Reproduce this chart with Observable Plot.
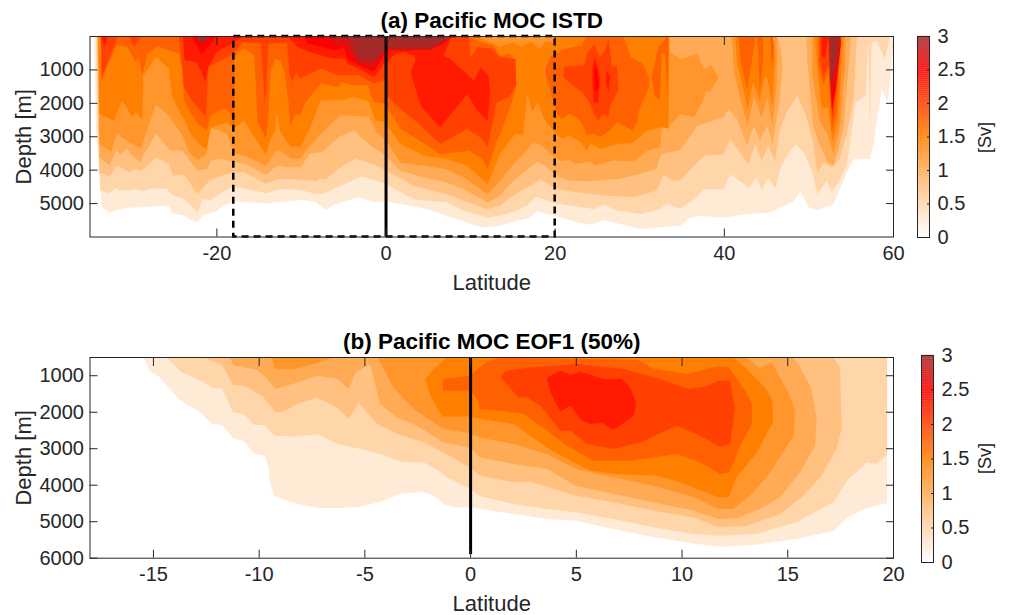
<!DOCTYPE html>
<html><head><meta charset="utf-8">
<style>html,body{margin:0;padding:0;background:#fff}#c{position:relative;width:1011px;height:615px;overflow:hidden}#c>*{position:absolute}</style>
<script src="https://cdn.jsdelivr.net/npm/d3@7"></script>
<script src="https://cdn.jsdelivr.net/npm/@observablehq/plot@0.6"></script>
</head><body><div id="c"></div>
<script>
const latTicksA=[-20,0,20,40,60], latTicksB=[-15,-10,-5,0,5,10,15,20];
const depthTicksA=[1000,2000,3000,4000,5000], depthTicksB=[1000,2000,3000,4000,5000,6000];
const cbTicks=[0,0.5,1,1.5,2,2.5,3];
const cmapDomain=[0,1.5,2.5,3], cmapRange=["#ffffff","#ff8000","#ff0000","#a52a2a"];
const boxLat=[-18,20];

// Panel (a): contour outlines [latitude, depth]
const a025=[[-34.5,0],[-34.3,2700],[-33.6,5110],[-32.7,5260],[-31.6,5190],[-30.8,5130],[-25.7,5060],[-25.2,5290],[-23.9,5360],[-23.3,5460],[-22.3,5560],[-21.7,5360],[-20.1,5240],[-19.4,5090],[-18,4930],[-14.2,4990],[-9.9,4890],[-8.3,4960],[-7.2,5180],[-6,5030],[-3.4,4810],[-1.25,4960],[-0.15,4930],[4.5,5140],[7.2,5370],[11.2,5700],[12.3,5700],[13.5,5660],[15.5,5510],[16.9,5430],[17.9,5240],[19.8,5360],[22.6,5560],[24.2,5630],[25.7,5490],[27.7,5610],[30.1,5760],[33.2,5690],[34.8,5660],[36,5420],[37.2,5370],[39.9,5420],[42.7,5320],[45.4,5270],[48.2,4920],[49,4640],[50,5120],[51.1,5200],[52.9,5020],[54.5,4070],[55.3,3670],[57.2,3670],[57.6,3270],[58.6,1570],[59.3,1970],[60,270],[60,0]];
const a050=[[-34.3,0],[-34.1,2500],[-33.8,4610],[-32.7,4690],[-32,4530],[-31.4,4590],[-30.4,4610],[-29.6,4560],[-28.8,4630],[-27.6,4540],[-25.9,4560],[-25.2,4760],[-23.9,4860],[-22.3,5260],[-21.7,4860],[-20.7,4890],[-19.4,4660],[-18,4480],[-14.2,4690],[-12.3,4560],[-10.1,4590],[-8.3,4710],[-7.2,4690],[-5.6,4490],[-2.8,4190],[-1.25,4310],[-0.15,4410],[3.3,4870],[7.2,4970],[9.2,5220],[12,5420],[13.5,5360],[15.5,5210],[16.7,5060],[17.7,4790],[20,4990],[23,5110],[24.6,5160],[25.7,5030],[27.3,5210],[30.1,5310],[32.4,5160],[33.2,5010],[34.8,5160],[36.5,4870],[37.6,4570],[39.9,4570],[40.7,4120],[42.9,4520],[43.8,4220],[44.4,4570],[45.2,4250],[46,4540],[46.8,3820],[48.4,3220],[49.4,3470],[50.4,4070],[51,4720],[52.1,4320],[52.7,4640],[53.5,4370],[54.5,3820],[55.5,1970],[56.7,1770],[57,70],[57.2,2670],[57.4,170],[58,120],[59,670],[59.5,70],[59.5,0]];
const a075=[[-34.2,0],[-34,2500],[-33.9,4060],[-32.7,4190],[-31.8,3860],[-30.4,4060],[-29.6,3960],[-29,4030],[-27.2,3630],[-25.7,3810],[-25.2,4160],[-23.9,4130],[-22.3,4710],[-20.9,4310],[-19.4,4160],[-18,4060],[-16.8,4060],[-14.2,4410],[-12.7,4260],[-10.1,4290],[-8.3,4330],[-7.8,4240],[-7.2,4290],[-5.6,3960],[-3.6,3660],[-1.65,3810],[-0.15,3990],[3.3,4470],[7.2,4720],[9.2,4920],[12,5170],[13.5,5060],[14.7,4810],[16.3,4560],[18.3,4290],[20,4530],[21,4610],[23.4,4690],[25.7,4760],[29.3,4810],[32,4610],[32.8,4160],[34,4310],[34.8,4310],[36,3970],[37.6,3570],[39.9,3520],[40.7,3070],[41.7,3420],[42.8,3820],[43.7,3220],[44.4,3720],[45.2,3270],[46,3720],[46.6,2770],[47.4,2270],[48.6,1770],[49.6,2320],[50.4,3070],[51,4070],[51.7,3770],[52.7,3920],[53.6,3670],[54.5,2870],[55.3,1870],[55.6,270],[55.7,0]];
const a100=[[-34.1,0],[-34,2000],[-33.9,3610],[-32.7,3860],[-31.9,3410],[-31.4,3530],[-30.6,3360],[-30.2,3530],[-29,3760],[-28.7,3560],[-27.2,2910],[-25.5,3410],[-24.1,3410],[-22.3,4010],[-21.1,3960],[-20.7,3710],[-19.4,3660],[-18,3760],[-16.6,3810],[-14.2,4140],[-12.9,3860],[-11.7,3910],[-10.1,3910],[-9,3510],[-7.5,3460],[-5.6,3010],[-3.8,2810],[-1.65,3310],[-0.15,3530],[1.7,4020],[4.5,4220],[7.2,4370],[9.2,4570],[12,4970],[13.5,4760],[14.7,4410],[16.3,4060],[17.9,3740],[19,3910],[20,4160],[21.6,4310],[24,4330],[25.3,4310],[27.7,4260],[30.1,4110],[32,3960],[32.4,3610],[32.6,3510],[34.8,3400],[36.8,2670],[39.9,2420],[40.5,2170],[41.5,2470],[42.7,3250],[43.5,2670],[44.2,3120],[45.1,2670],[45.7,3220],[46.5,1970],[46.9,870],[46.6,270],[46.2,0]];
const a100b=[[49.7,0],[49.8,670],[50.5,2670],[51.3,3270],[52.3,3770],[52.9,3870],[53.5,3370],[54.1,2670],[54.9,270],[54.9,0]];
const a125=[[-34.05,0],[-33.95,1500],[-33.9,3210],[-32.5,3460],[-31.8,2910],[-30.4,3160],[-29,3360],[-28.6,3060],[-28,2600],[-27.2,2060],[-25.7,2360],[-24.5,2800],[-23.9,3060],[-23.3,3460],[-22.3,3700],[-21.2,3520],[-20.9,2700],[-18.8,2920],[-18,3490],[-16.8,3560],[-14.2,3860],[-13.1,3460],[-12.5,3410],[-11.3,3660],[-10.1,3660],[-9.3,3360],[-8,3010],[-5.4,2350],[-2,2400],[-1.05,2900],[-0.15,3060],[1.7,3770],[4.5,3870],[7.2,3970],[9.2,4220],[12,4720],[13.5,4310],[15.1,3810],[16.3,3510],[17.5,3140],[18.6,3310],[20,3630],[20.8,3730],[21.6,3690],[22.4,3810],[24.2,3740],[24.6,3860],[26.9,3710],[29.3,3730],[30.9,3410],[32.4,3310],[32.6,2760],[33.4,2700],[34.8,2320],[36.4,2420],[37.5,1920],[37.8,1620],[38.3,1670],[39.3,1220],[38.5,870],[37.6,970],[36.8,520],[35.6,620],[34.8,670],[33.6,470],[33.4,0]];
const a125b=[[40.9,0],[41.1,970],[41.7,1670],[42.75,2670],[43.5,1770],[44.4,2420],[45.1,1820],[45.7,2670],[46.2,1370],[46.2,0]];
const a125c=[[50.4,0],[50.4,1170],[51.3,2520],[52.3,2970],[52.9,3520],[53.7,2670],[54.3,670],[54.3,0]];
const a150=[[-34,0],[-33.9,2320],[-32.2,2520],[-31.2,1920],[-30.8,2070],[-30,2420],[-29.6,2270],[-28.8,2490],[-28.7,1170],[-27.2,610],[-25.7,960],[-25.3,1810],[-24.3,2310],[-23.9,2460],[-22.9,3000],[-21.7,3300],[-21.2,3370],[-20.7,2720],[-18.8,2570],[-18,2760],[-16.8,2510],[-15.6,3010],[-14.2,3530],[-13.7,3110],[-13.1,2810],[-12.9,2260],[-12.5,2860],[-11.3,3310],[-10.9,3290],[-10.1,3310],[-9.1,2810],[-7.7,1910],[-5.2,1910],[-3.8,1810],[-2,1960],[-1.25,2510],[-0.15,2560],[1.7,3220],[4.5,3570],[7.2,3670],[9.6,3870],[12,4420],[13.5,3510],[15.3,2910],[16.2,2960],[16.7,1710],[17.3,2260],[17.9,1960],[18.8,2510],[20,2910],[20.8,3060],[21.6,2960],[23,3160],[23.7,3430],[24.2,3210],[25.3,3360],[27.5,3210],[29.1,3190],[30.9,2810],[32.6,2710],[33.4,2760],[33.5,0],[20,0],[19.8,160],[18.8,160],[18.2,360],[17.1,160],[15.9,310],[15.1,160],[13.5,310],[12,150],[11,0]];
const a150b=[[41.3,0],[41.5,770],[42.1,1420],[42.75,2170],[43.4,1370],[44.2,1920],[44.8,1170],[45.1,1270],[45.7,2070],[46,670],[45.7,0]];
const a150c=[[50.7,0],[51,970],[51.5,2170],[52.3,2120],[52.8,3170],[53.5,2470],[53.9,670],[54.1,0]];
const a175=[[-33.7,0],[-33.7,1360],[-32.7,760],[-31.8,260],[-30.6,310],[-29.6,760],[-29.2,660],[-28.8,1160],[-28.2,510],[-27,310],[-24.5,510],[-24.1,1000],[-23.9,1910],[-23.3,2210],[-22.3,2600],[-21.2,2820],[-20.7,2360],[-19.4,2160],[-18.6,2210],[-18.2,2510],[-17.95,2810],[-17.95,660],[-17.4,460],[-16.8,360],[-15.6,560],[-15.4,1410],[-15.2,2560],[-14.2,3060],[-13.9,2410],[-13.7,1110],[-13.1,660],[-12.5,710],[-12,1060],[-11.5,2010],[-11.3,2660],[-10.7,2310],[-10.2,2360],[-9.5,1960],[-7.7,1410],[-5.6,1510],[-5.2,1360],[-4,1460],[-2.2,1460],[-1.5,1960],[-0.1,2010],[1.7,2770],[3.7,3070],[6.4,3520],[9.8,3420],[11.4,3670],[12,3970],[13,3200],[13.5,2910],[14.3,2400],[15.3,1600],[15.4,1010],[14.7,500],[13.5,600],[12.7,270],[11.2,170],[10,0]];
const a175b=[[18.8,1010],[19.4,1610],[20.2,2310],[20.8,2460],[21.6,2310],[22.4,2410],[23,2510],[23.8,2960],[24.6,2910],[25.3,3010],[26.5,2810],[27.3,2560],[29.1,2810],[29.7,2560],[29.9,2210],[31.1,1510],[31.1,1210],[30.3,810],[28.9,610],[28.3,110],[27.9,0],[24.4,0],[23.6,10],[23.2,260],[21.4,360],[20,510],[19.4,610]];
const a175c=[[33.2,0],[32.2,310],[31.4,1210],[31.8,1810],[32.4,1910],[32.6,510],[33,510],[33.3,1910],[33.4,0]];
const a175d=[[41.7,0],[41.9,670],[42.7,1620],[43.3,670],[43.7,0]];
const a175e=[[43.9,0],[44.2,1620],[44.6,670],[44.6,0]];
const a175f=[[45.4,0],[45.6,970],[45.9,270],[45.7,0]];
const a175g=[[51.1,0],[51.1,870],[51.7,1470],[52.3,1070],[52.7,2870],[53.3,2270],[53.7,470],[53.8,0]];
const a200=[[-33.7,0],[-33.6,1210],[-32.7,610],[-32,210],[-31.8,0]];
const a200b=[[-30.4,0],[-29.8,320],[-29,0]];
const a200c=[[-24.5,0],[-24.2,600],[-23.9,1510],[-23,1900],[-21.3,2400],[-21,910],[-18,510],[-17,170],[-14.8,210],[-14.3,2060],[-13.9,210],[-11.7,210],[-11.4,1110],[-11.1,1360],[-10.6,1060],[-10.2,1260],[-7.7,960],[-5.6,1160],[-3.2,1160],[-1.45,1410],[-0.15,1310],[0.2,1800],[1.7,2170],[3.7,2570],[6.4,3220],[9.6,2770],[11.4,3070],[12,3320],[13.1,1970],[14.5,1820],[15.4,1470],[15.3,670],[13.5,620],[12.5,370],[10.8,320],[10,620],[9.8,0]];
const a200d=[[21,910],[23.4,860],[23.8,510],[24.6,210],[25.3,610],[25.9,410],[26.3,60],[26.7,910],[27.3,860],[27.5,1610],[26.5,2060],[26.3,2410],[25.7,2310],[25.1,2510],[24.6,2310],[24,1960],[23.2,1660],[22,1460],[21,1210]];
const a200e=[[51.3,0],[51.3,670],[51.7,1220],[52.3,870],[52.8,2570],[53.1,1870],[53.6,270],[53.7,0]];
const a225=[[-24,0],[-23.8,710],[-22.5,760],[-21.9,1010],[-21.4,1360],[-21,910],[-20,460],[-18.2,210],[-18,160],[-17,30],[-11.5,30],[-10.5,310],[-9.1,460],[-7.7,560],[-6.4,660],[-4.8,660],[-4.6,810],[-3.2,960],[-1.45,1210],[-0.65,960],[-0.15,760],[0,800],[1.1,520],[2.1,470],[3.3,570],[3.5,720],[2.9,1070],[4.1,2070],[6.4,2720],[9.6,1720],[10.8,2220],[12,2520],[12.3,1670],[12.1,1170],[11.2,920],[10.4,1320],[7.6,670],[6.8,570],[7.8,0]];
const a225b=[[24.4,910],[24.7,610],[25.3,1210],[25.1,1960],[24.6,2010],[24.4,1410]];
const a225c=[[26.1,1010],[26.5,1210],[26.3,1660],[26,1410]];
const a225d=[[51.5,0],[51.5,570],[51.9,670],[52.3,0]];
const a225e=[[52.3,0],[52.8,2320],[53.3,670],[53.6,0]];
const a225f=[[-33.7,0],[-33.3,310],[-32.9,0]];
const a250=[[-23,0],[-21.8,520],[-21,310],[-20,0]];
const a250b=[[-9.7,0],[-9.3,210],[-7.7,310],[-6,410],[-5,310],[-4.6,660],[-3.2,860],[-1.45,1060],[-0.5,660],[-0.15,510],[0.5,420],[5.3,370],[6.8,220],[7.7,0]];
const a250c=[[24.6,1010],[24.9,910],[25.2,1510],[24.7,1660]];
const a250d=[[52.4,0],[52.7,2170],[53.2,1570],[53.8,170],[53.7,0]];
const a275=[[-22.5,0],[-21.7,250],[-20.9,0]];
const a275b=[[-7.2,0],[-5.6,260],[-4.8,210],[-4.4,460],[-3.4,810],[-1.45,910],[-0.15,410],[1.3,420],[5.3,400],[6.8,220],[7.7,0]];
const a275c=[[52.4,0],[52.6,1800],[53.3,900],[53.7,0]];
const a300=[[-22.5,0],[-21.9,220],[-20.9,0]];
const a300b=[[-5.2,0],[-4,160],[-3.5,560],[-2.4,710],[-1.4,710],[-0.3,460],[0,320],[1.3,320],[5.3,320],[6.8,120],[7.8,0]];
const a300c=[[52.4,0],[52.5,1370],[53.4,570],[53.6,0]];

// Panel (b)
const b025=[[-15.45,500],[-15.2,863],[-14.74,1018],[-13.76,1667],[-12.77,2004],[-12.27,2306],[-11.75,2351],[-11.2,2735],[-10.72,2780],[-10.25,3127],[-9.73,3191],[-9.54,3556],[-9.51,3922],[-9.28,4287],[-8.36,4497],[-7.26,4625],[-6.16,4625],[-5.21,4588],[-4.27,4451],[-3.32,4241],[-2.3,4177],[-1.75,4287],[-1.2,4543],[-0.72,4607],[-0.05,4607],[0.46,4652],[2.04,4789],[3.61,4926],[4.98,4972],[6.76,5200],[8.65,5428],[10.7,5611],[11.96,5684],[13.5,5629],[15.4,5474],[17.16,5246],[17.8,4899],[18.73,4625],[19.7,4488],[19.7,500]];
const b050=[[-14.35,500],[-13.72,890],[-12.6,1183],[-12.2,1338],[-11.75,1347],[-11.23,2004],[-10.72,2050],[-10.25,2342],[-9.75,2351],[-9.26,2643],[-8.2,2662],[-7.26,2598],[-6.3,2872],[-5.2,3009],[-4.27,3146],[-3.32,3356],[-2.2,3374],[-1.6,3575],[-1.12,3785],[-0.05,4086],[0.46,4305],[2.04,4515],[3.61,4652],[4.98,4743],[6.76,4926],[8.65,5154],[10.54,5337],[11.72,5382],[13.5,5337],[15.4,5017],[17.16,4470],[17.55,4104],[17.8,3876],[18.73,3374],[19.2,3420],[19.7,3146],[19.7,500]];
const b075=[[-12.6,500],[-11.75,700],[-11.23,1256],[-10.72,1274],[-9.78,1593],[-9.23,2004],[-8.83,1977],[-8.2,1776],[-7.26,1593],[-6.3,1868],[-5.76,2187],[-5.29,1749],[-4.43,2324],[-3.48,2598],[-2.2,2826],[-1.28,3100],[-0.05,3511],[0.46,3739],[2.04,3922],[2.83,3903],[4.98,4287],[6.76,4470],[8.65,4698],[10.54,4880],[11.72,5154],[13.06,5109],[14.64,4789],[15.74,4287],[16.53,3785],[17.3,3009],[17.55,2461],[17.5,1365],[17.47,772],[17.16,500]];
const b100=[[-11.4,500],[-11.2,726],[-10.1,836],[-9.62,1091],[-9.23,1365],[-8.2,1183],[-7.26,1000],[-6.3,1091],[-5.76,1365],[-5.45,909],[-4.74,680],[-4.5,1274],[-4.27,1776],[-3.48,2141],[-2.53,2370],[-1.28,2826],[-0.05,2963],[0.46,3237],[2.04,3420],[3.61,3556],[4.98,4013],[6.76,4241],[8.65,4470],[10.54,4698],[11.72,4926],[12.59,4908],[13.85,4607],[14.64,4332],[15.58,3648],[16.29,2917],[16.37,2187],[16.13,1365],[15.5,680],[15.27,500]];
const b125=[[-4.4,500],[-3.64,1320],[-2.69,1913],[-1.28,2461],[-0.05,2570],[0.46,2689],[2.04,2872],[3.61,3146],[4.98,3556],[6.76,3785],[8.65,4013],[10.54,4332],[11.72,4652],[12.43,4652],[13.3,4241],[14.17,3648],[15.27,2643],[15.35,2004],[15.11,1548],[14.24,634],[13.69,799],[13.06,500]];
const b125b=[[-9.4,500],[-9.23,820],[-8.36,820],[-7.4,680],[-6.5,500]];
const b150=[[-1.12,500],[-1.75,817],[-2.14,1091],[-1.9,1548],[-1.35,2114],[-0.05,2114],[0.46,2187],[2.04,2324],[2.83,2643],[3.61,2963],[4.72,3328],[5.66,3602],[6.92,3694],[8.81,3739],[9.91,3922],[10.7,4104],[11.72,4332],[12.2,4332],[12.59,3785],[13.53,3100],[14.29,2278],[14.29,1730],[14,1365],[13.06,817],[12.43,500]];
const b175=[[-1.31,1091],[-0.05,1000],[0.69,635],[1.4,500],[7.87,562],[8.65,799],[10.23,954],[11.64,744],[12.2,744],[12.98,1411],[13.3,1776],[13.3,2324],[12.75,2917],[12.24,3648],[11.8,3694],[10.86,3374],[9.76,3146],[7.55,3328],[5.82,3328],[4.56,2917],[3.3,2370],[2.51,2050],[1.41,1959],[0.46,1913],[0.22,1548],[-0.05,1411],[-1.31,1411]];
const b200=[[1.41,1046],[2.27,1593],[2.67,1593],[3.3,1822],[4.24,2507],[4.72,2507],[5.5,2872],[6.76,3009],[8.02,2826],[9.76,2370],[10.86,2643],[11.8,2945],[12.27,2872],[12.5,1913],[12.27,1137],[11.72,1137],[11.17,1292],[10.3,1365],[8.97,1091],[7.24,817],[5.03,680],[2.83,772],[1.64,863]];
const b225=[[3.61,1046],[4.24,863],[4.72,982],[5.19,890],[6.29,1091],[7.16,1091],[7.55,1320],[7.83,1730],[7.71,2096],[6.76,2488],[6.21,2297],[5.66,2324],[5.27,2233],[4.72,1822],[4.24,1977],[3.77,1457]];

const aPolys=[[0.25,a025],[0.5,a050],[0.75,a075],[1,a100],[1,a100b],[1.25,a125],[1.25,a125b],[1.25,a125c],[1.5,a150],[1.5,a150b],[1.5,a150c],[1.75,a175],[1.75,a175b],[1.75,a175c],[1.75,a175d],[1.75,a175e],[1.75,a175f],[1.75,a175g],[2,a200],[2,a200b],[2,a200c],[2,a200d],[2,a200e],[2.3,a225],[2.3,a225b],[2.3,a225c],[2.3,a225d],[2.3,a225e],[2.3,a225f],[2.5,a250],[2.5,a250b],[2.5,a250c],[2.5,a250d],[2.75,a275],[2.75,a275b],[2.75,a275c],[3,a300],[3,a300b],[3,a300c]];
const bPolys=[[0.25,b025],[0.5,b050],[0.75,b075],[1,b100],[1.25,b125],[1.25,b125b],[1.5,b150],[1.75,b175],[2,b200],[2.3,b225]];
const rows=ps=>ps.flatMap(([level,pts],id)=>pts.map(([lat,depth])=>({lat,depth,level,id})));

const FONT="'Liberation Sans', Arial, sans-serif", INK="#262626";
const ramp=d3.scaleLinear().domain(cmapDomain).range(cmapRange).interpolate(d3.interpolateRgb).clamp(true);
const colorOpt={type:"linear",domain:[0,3],interpolate:t=>ramp(t*3),clamp:true};
const c=document.getElementById("c");
function place(el,top,left){el.style.top=top+"px";el.style.left=left+"px";c.appendChild(el);}

function panel({title,xDomain,yDomain,polys,xTicks,yTicks,frameTop,frameH,extra,height}){
  const marginBottom=height-frameTop-frameH;
  return Plot.plot({
    width:1011,height,marginLeft:89.5,marginRight:118,marginTop:frameTop,marginBottom,
    style:{fontFamily:FONT,fontSize:"20px",color:INK,background:"transparent"},
    x:{domain:xDomain},y:{domain:yDomain,reverse:true},color:colorOpt,
    marks:[
      Plot.line(rows(polys),{x:"lat",y:"depth",z:"id",fill:"level",stroke:"none",curve:"linear-closed",clip:"frame"}),
      ...extra,
      Plot.axisX(xTicks,{anchor:"bottom",tickSize:-8,tickPadding:17,tickFormat:d=>String(d),label:null,stroke:INK,fill:INK,fontSize:20}),
      Plot.axisX(xTicks,{anchor:"top",tickSize:-8,text:null,label:null,stroke:INK}),
      Plot.axisY(yTicks,{anchor:"left",tickSize:-8,tickPadding:14,tickFormat:d=>String(d),label:null,stroke:INK,fill:INK,fontSize:20}),
      Plot.axisY(yTicks,{anchor:"right",tickSize:-8,text:null,label:null,stroke:INK}),
      Plot.frame({stroke:INK,strokeWidth:1}),
      Plot.text(["Latitude"],{frameAnchor:"bottom",lineAnchor:"middle",dy:46,fontSize:22,fill:INK,stroke:"none"}),
      Plot.text(["Depth [m]"],{frameAnchor:"left",textAnchor:"middle",lineAnchor:"middle",rotate:-90,dx:-66,fontSize:22,fill:INK,stroke:"none"}),
      Plot.text([title],{frameAnchor:"top",lineAnchor:"bottom",dy:-9,fontWeight:"bold",fontSize:22.5,fill:"#000",stroke:"none"})
    ]
  });
}
function colorbar(h){
  const stops=d3.range(0,3,0.01);
  return Plot.plot({
    width:92,height:h+22,marginLeft:0,marginRight:80,marginTop:10,marginBottom:12,
    style:{fontFamily:FONT,fontSize:"20px",color:INK,background:"transparent"},
    x:{domain:[0,1],axis:null},y:{domain:[0,3]},color:colorOpt,
    marks:[
      Plot.rect(stops,{x1:0,x2:1,y1:d=>d,y2:d=>d+0.012,fill:d=>d,inset:0}),
      Plot.axisY(cbTicks,{anchor:"right",tickSize:-3,tickPadding:11,tickFormat:d=>String(d),label:null,stroke:INK,fill:INK,fontSize:20}),
      Plot.frame({stroke:INK,strokeWidth:1})
    ]
  });
}

const ruleA=Plot.ruleX([0],{y1:0,y2:6000,stroke:"#000",strokeWidth:3});
const boxA=Plot.rect([boxLat],{x1:d=>d[0],x2:d=>d[1],y1:()=>0,y2:()=>6000,fill:"none",stroke:"#000",strokeWidth:2.5,strokeDasharray:"7,5"});
const ruleB=Plot.ruleX([0],{y1:500,y2:5900,stroke:"#000",strokeWidth:3});

place(panel({title:"(a) Pacific MOC ISTD",xDomain:[-35,60],yDomain:[0,6000],polys:aPolys,xTicks:latTicksA,yTicks:depthTicksA,frameTop:36,frameH:200.5,extra:[ruleA,boxA],height:300}),0,0);
place(panel({title:"(b) Pacific MOC EOF1 (50%)",xDomain:[-18,20],yDomain:[500,6000],polys:bPolys,xTicks:latTicksB,yTicks:depthTicksB,frameTop:37,frameH:200.7,extra:[ruleB],height:295}),320,0);

place(colorbar(201),26,917);
place(colorbar(207),345,921);

// [Sv] labels
for(const [top,cy] of [[0,137],[320,138]]){
  const p=Plot.plot({width:30,height:90,margin:0,x:{domain:[0,1],axis:null},y:{domain:[0,1],axis:null},
    style:{fontFamily:FONT,fontSize:"20px",color:INK,background:"transparent"},
    marks:[Plot.text(["[Sv]"],{frameAnchor:"middle",rotate:-90,fontSize:18,fill:INK})]});
  place(p,top+cy-45,970);
}
</script></body></html>
